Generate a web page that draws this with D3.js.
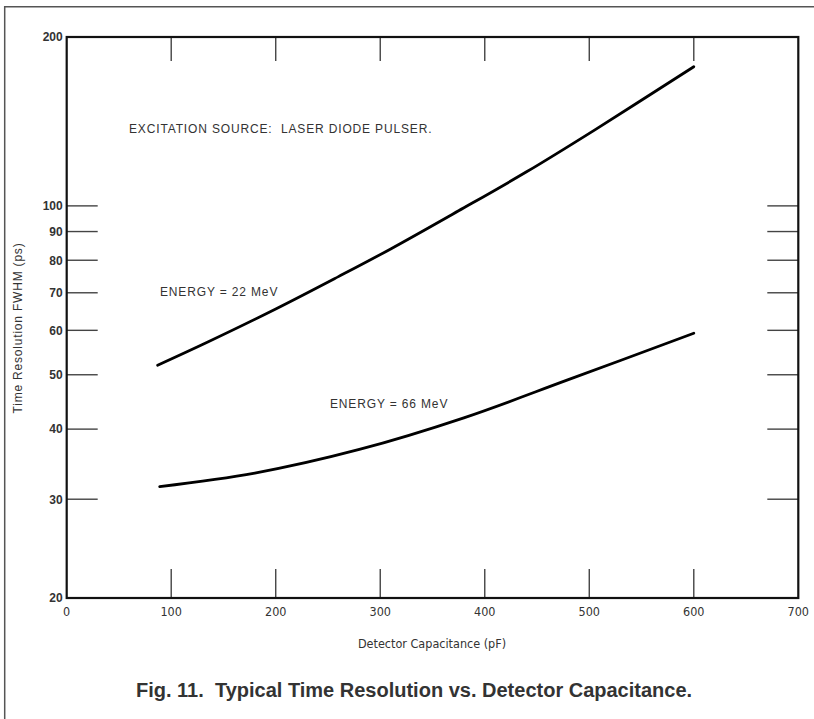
<!DOCTYPE html>
<html>
<head>
<meta charset="utf-8">
<script src="https://cdn.jsdelivr.net/npm/d3@7"></script>
<style>
  body { margin: 0; background: #fff; }
  svg { display: block; }
  text { white-space: pre; }
</style>
</head>
<body>
<div id="chart"></div>
<script>
'use strict';

// values
var capacitance22 = [87, 135, 200, 260, 310, 375, 440, 505, 600];
var resolution22  = [52, 57.2, 65.5, 74.8, 83.8, 98, 115, 136.5, 177];
var capacitance66 = [89, 180, 280, 380, 480, 600];
var resolution66  = [31.6, 33.4, 36.8, 41.9, 49, 59.3];

var xTicks      = [0, 100, 200, 300, 400, 500, 600, 700];
var xInnerTicks = [100, 200, 300, 400, 500, 600];
var yTicks      = [20, 30, 40, 50, 60, 70, 80, 90, 100, 200];
var yInnerTicks = [30, 40, 50, 60, 70, 80, 90, 100];

var fig = {};
fig.w = 814;
fig.h = 719;
fig.plot = {left: 66.7, right: 798.3, top: 37, bottom: 598};
fig.labelFont = '"Liberation Sans", Arial, sans-serif';
fig.narrowFont = '"Liberation Sans Narrow", "DejaVu Sans Condensed", sans-serif';

fig.xScale = d3.scaleLinear().domain([0, 700]).range([fig.plot.left, fig.plot.right]);
fig.yScale = d3.scaleLog().domain([20, 200]).range([fig.plot.bottom, fig.plot.top]);

fig.appendSvg = function (div)
{
    var svg = d3.select(div).append('svg')
        .attr('width', fig.w)
        .attr('height', fig.h);
    svg.append('rect').attr('width', fig.w).attr('height', fig.h).attr('fill', '#fff');
    // page frame (only top and left edges show)
    svg.append('path')
        .attr('d', 'M4.7,' + fig.h + 'V6.7H' + fig.w)
        .attr('fill', 'none')
        .attr('stroke', '#555')
        .attr('stroke-width', 1.5);
    return svg;
}

fig.drawAxes = function (svg)
{
    var p = fig.plot;
    var g = svg.append('g').attr('class', 'axes');

    // inner ticks: bottom ones are longer than top ones
    g.selectAll('.tb').data(xInnerTicks).enter().append('line')
        .attr('x1', function(d){ return fig.xScale(d); })
        .attr('x2', function(d){ return fig.xScale(d); })
        .attr('y1', p.bottom).attr('y2', p.bottom - 29)
        .attr('stroke', '#444').attr('stroke-width', 1.4);
    g.selectAll('.tt').data(xInnerTicks).enter().append('line')
        .attr('x1', function(d){ return fig.xScale(d); })
        .attr('x2', function(d){ return fig.xScale(d); })
        .attr('y1', p.top).attr('y2', p.top + 24)
        .attr('stroke', '#444').attr('stroke-width', 1.4);
    g.selectAll('.tl').data(yInnerTicks).enter().append('line')
        .attr('x1', p.left).attr('x2', p.left + 31)
        .attr('y1', function(d){ return fig.yScale(d); })
        .attr('y2', function(d){ return fig.yScale(d); })
        .attr('stroke', '#444').attr('stroke-width', 1.4);
    g.selectAll('.tr').data(yInnerTicks).enter().append('line')
        .attr('x1', p.right).attr('x2', p.right - 31)
        .attr('y1', function(d){ return fig.yScale(d); })
        .attr('y2', function(d){ return fig.yScale(d); })
        .attr('stroke', '#444').attr('stroke-width', 1.4);

    g.append('rect')
        .attr('x', p.left).attr('y', p.top)
        .attr('width', p.right - p.left).attr('height', p.bottom - p.top)
        .attr('fill', 'none').attr('stroke', '#111').attr('stroke-width', 2.2);

    // tick labels
    g.selectAll('.yl').data(yTicks).enter().append('text')
        .attr('x', p.left - 4)
        .attr('y', function(d){ return fig.yScale(d); })
        .attr('dy', '0.36em')
        .attr('text-anchor', 'end')
        .style('font-family', fig.labelFont)
        .style('font-size', '12px')
        .style('font-weight', 'bold')
        .style('fill', '#333')
        .text(function(d){ return d; });
    g.selectAll('.xl').data(xTicks).enter().append('text')
        .attr('x', function(d){ return fig.xScale(d); })
        .attr('y', p.bottom + 18)
        .attr('text-anchor', 'middle')
        .style('font-family', fig.narrowFont)
        .style('font-size', '12.5px')
        .style('fill', '#333')
        .text(function(d){ return d; });

    g.append('text')
        .attr('transform', 'translate(22,' + 328 + ') rotate(-90)')
        .attr('text-anchor', 'middle')
        .style('font-family', fig.labelFont)
        .style('font-size', '12px')
        .style('letter-spacing', '0.8px')
        .style('fill', '#333')
        .text('Time Resolution FWHM (ps)');
    g.append('text')
        .attr('x', 432).attr('y', 648)
        .attr('text-anchor', 'middle')
        .style('font-family', fig.narrowFont)
        .style('font-size', '12.5px')
        .style('fill', '#333')
        .text('Detector Capacitance (pF)');
}

fig.drawCurve = function (svg, xs, ys)
{
    var pts = xs.map(function(x, i){ return [x, ys[i]]; });
    var line = d3.line()
        .x(function(d){ return fig.xScale(d[0]); })
        .y(function(d){ return fig.yScale(d[1]); })
        .curve(d3.curveCatmullRom.alpha(0.5));
    svg.append('path')
        .datum(pts)
        .attr('d', line)
        .attr('fill', 'none')
        .attr('stroke', '#000')
        .attr('stroke-width', 2.8)
        .attr('stroke-linecap', 'round');
}

fig.note = function (svg, x, y, txt)
{
    svg.append('text')
        .attr('x', x).attr('y', y)
        .attr('dy', '0.36em')
        .style('font-family', fig.labelFont)
        .style('font-size', '12px')
        .style('letter-spacing', '0.85px')
        .style('fill', '#333')
        .text(txt);
}

var svg = fig.appendSvg('#chart');
fig.drawAxes(svg);
fig.drawCurve(svg, capacitance22, resolution22);
fig.drawCurve(svg, capacitance66, resolution66);

fig.note(svg, 129, 129, 'EXCITATION SOURCE:  LASER DIODE PULSER.');
fig.note(svg, 160, 292, 'ENERGY = 22 MeV');
fig.note(svg, 330, 404, 'ENERGY = 66 MeV');

svg.append('text')
    .attr('x', 136).attr('y', 697)
    .style('font-family', fig.labelFont)
    .style('font-size', '20px')
    .style('font-weight', 'bold')
    .style('fill', '#333')
    .text('Fig. 11.  Typical Time Resolution vs. Detector Capacitance.');
</script>
</body>
</html>
